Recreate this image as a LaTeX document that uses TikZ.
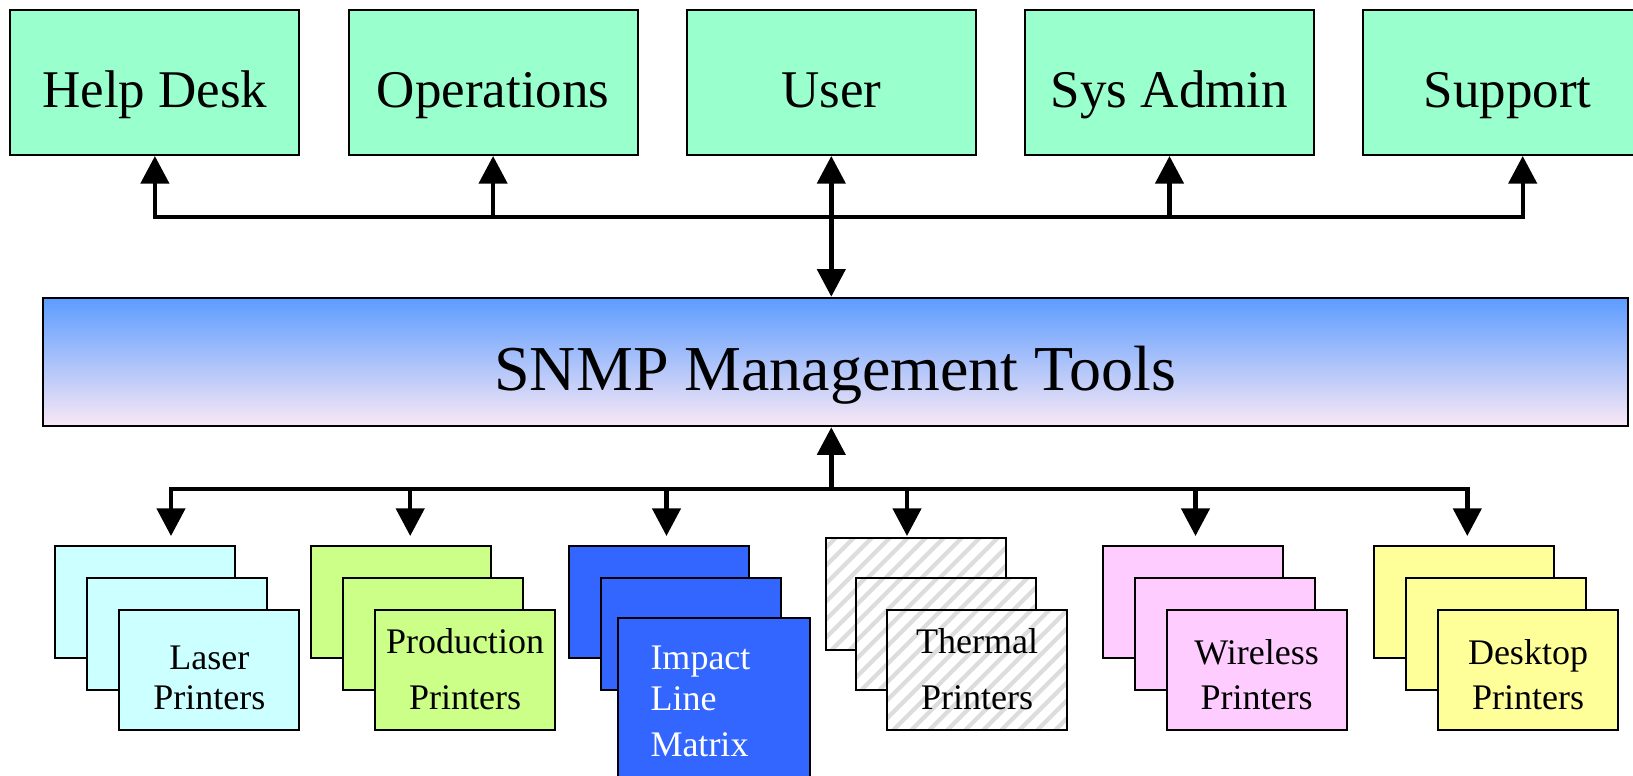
\documentclass[tikz,border=0pt]{standalone}
\usepackage{fontspec}
\setmainfont{Liberation Serif}
\usetikzlibrary{arrows.meta, positioning}

\definecolor{mint}{HTML}{99FFCC}
\definecolor{snmptop}{HTML}{5C9CFF}
\definecolor{snmpbot}{HTML}{F9E8F5}
\definecolor{laser}{HTML}{CCFFFF}
\definecolor{prod}{HTML}{CCFF88}
\definecolor{impact}{HTML}{3366FF}
\definecolor{wless}{HTML}{FFCCFF}
\definecolor{desk}{HTML}{FFFF99}
\definecolor{stripegray}{HTML}{DDDDDD}

\begin{document}
\begin{tikzpicture}[x=0.5pt, y=-0.5pt,
node distance = 16pt and 16pt,
>={Triangle[length=13.8pt, width=14pt]},
team/.style = {draw, line width=1pt, fill=mint, inner sep=0pt,
               minimum width=144.5pt, text height=48.5pt, text depth=24pt,
               font=\fontsize{26.5}{30}\selectfont},
sheet/.style = {draw, line width=1pt, inner sep=0pt,
                minimum width=90pt, minimum height=56pt},
front/.style = {sheet, text height=49.6pt, text depth=10.55pt,
               align=center, font=\fontsize{18}{20}\selectfont},
hatch/.style = {fill=white, path picture={
    \foreach \k in {0,...,17}
        \draw[stripegray, line width=2.1pt]
            ([xshift=\k*9pt-60pt]path picture bounding box.south west) -- ++(70pt,70pt);
                }},
bus/.style  = {line width=2.2pt, line cap=rect},
link/.style = {line width=2.2pt, ->},
                    ]
\useasboundingbox (0,0) rectangle (1633,776);
%---
\node (help)    [team, anchor=north west] at (9.4,9)    {Help Desk};
\node (ops)     [team, right=23.6pt of help]            {Operations};
\node (user)    [team, right=23.6pt of ops]             {User};
\node (sysadm)  [team, right=23.6pt of user]            {Sys Admin};
\node (support) [team, right=23.6pt of sysadm]          {Support};
%
\node (snmp) [draw, line width=1pt, top color=snmptop, bottom color=snmpbot,
              inner sep=0pt, minimum width=792.5pt,
              text height=46.15pt, text depth=18.15pt,
              font=\fontsize{32}{36}\selectfont, anchor=north west]
              at (41.7,296.7)                           {SNMP Management Tools};
%------- printer stacks
\node (laser1) [sheet, fill=laser, anchor=north west] at (54.4,545) {};
\node (laser2) [sheet, fill=laser, below right=of laser1.north west] {};
\node (laser3) [front, fill=laser,
                below right=of laser2.north west]       {Laser\\Printers};
%
\node (prod1) [sheet, fill=prod, anchor=north west] at (310,545) {};
\node (prod2) [sheet, fill=prod, below right=of prod1.north west] {};
\node (prod3) [front, fill=prod,
               below right=of prod2.north west]         {Production\\[8pt]Printers};
%
\node (imp1) [sheet, fill=impact, anchor=north west] at (567.5,545) {};
\node (imp2) [sheet, fill=impact, below right=of imp1.north west] {};
\node (imp3) [sheet, fill=impact, text=white, align=left,
              text width=63.3pt, inner xsep=16.5pt,
              text height=25.65pt, text depth=62pt,
              font=\fontsize{18}{20.5}\selectfont,
              below right=20pt and 8.5pt of imp2.north west] {Impact\\Line\\[2.5pt]Matrix};
%
\node (therm1) [sheet, hatch, anchor=north west] at (824.6,537) {};
\node (therm2) [sheet, hatch, below right=19.85pt and 15pt of therm1.north west] {};
\node (therm3) [front, hatch,
                below right=16.15pt and 15.75pt of therm2.north west] {Thermal\\[8pt]Printers};
%
\node (wless1) [sheet, fill=wless, anchor=north west] at (1101.5,545) {};
\node (wless2) [sheet, fill=wless, below right=of wless1.north west] {};
\node (wless3) [front, fill=wless,
                below right=of wless2.north west]       {Wireless\\[2.35pt]Printers};
%
\node (desk1) [sheet, fill=desk, anchor=north west] at (1373,545) {};
\node (desk2) [sheet, fill=desk, below right=of desk1.north west] {};
\node (desk3) [front, fill=desk,
               below right=of desk2.north west]         {Desktop\\[2.35pt]Printers};
%------- edges
\coordinate (topbus)  at (0,217);
\coordinate (botbus)  at (0,489);
\coordinate (botend)  at (0,536);
\coordinate (supptip) at ([xshift=7.5pt]support.south);
%
\draw[bus] (help |- topbus) -- (supptip |- topbus);
\foreach \n in {help, ops, sysadm, supptip}
    \draw[link] (\n |- topbus) -- (\n);
\draw[link, <->] (user.south) -- (user.south |- snmp.north);
%
\draw[link] (user.south |- botbus) -- (user.south |- snmp.south);
\foreach \s/\dx in {laser1/12.8, prod1/4.6, imp1/4, therm1/-4.3, wless1/1.5, desk1/1.65}
{
    \coordinate (\s-drop) at ([xshift=\dx pt]\s.north);
    \draw[link] (\s-drop |- botbus) -- (\s-drop |- botend);
}
\draw[bus] (laser1-drop |- botbus) -- (desk1-drop |- botbus);
\end{tikzpicture}
\end{document}
